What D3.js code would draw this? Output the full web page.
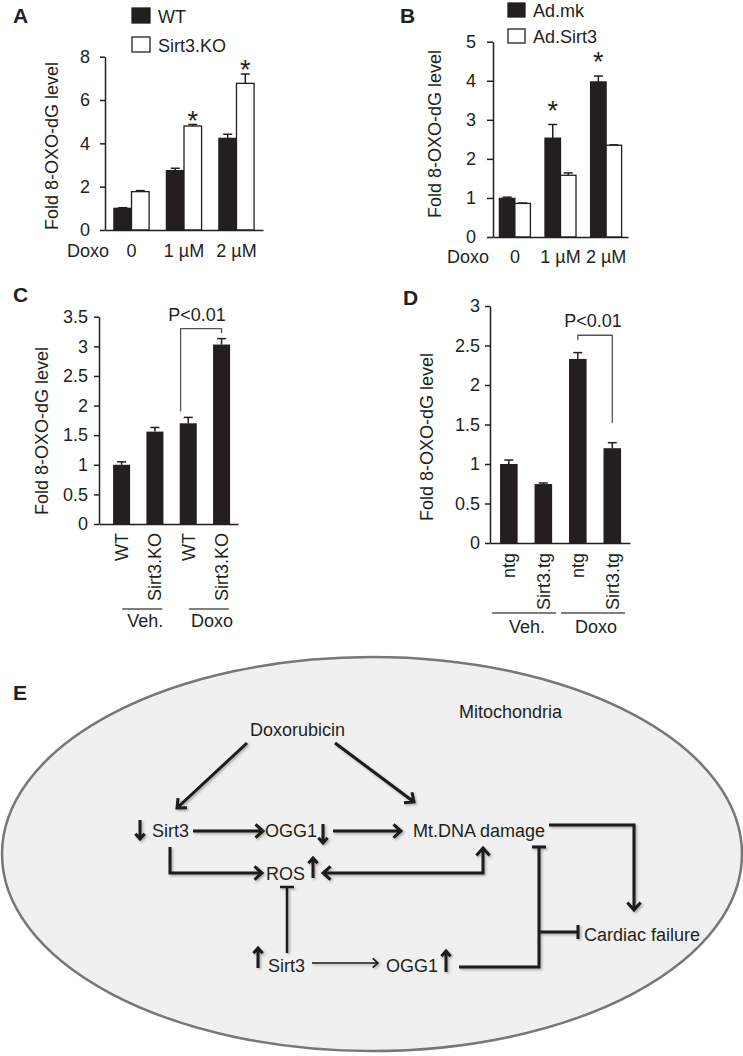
<!DOCTYPE html>
<html>
<head>
<meta charset="utf-8">
<script src="https://cdn.jsdelivr.net/npm/d3@7"></script>
<style>
  body { margin: 0; background: #fff; }
  svg { display: block; }
</style>
</head>
<body>
<div id="chart-area"></div>
<script>
// values
const doseLabels = ["0", "1 µM", "2 µM"]
const wtValues = [1.0, 2.74, 4.23]
const wtErrors = [0.03, 0.11, 0.19]
const koValues = [1.77, 4.8, 6.77]
const koErrors = [0.05, 0.07, 0.43]
const adMkValues = [0.99, 2.53, 3.97]
const adMkErrors = [0.03, 0.35, 0.15]
const adSirt3Values = [0.86, 1.58, 2.35]
const adSirt3Errors = [0.01, 0.06, 0.01]

const koLabels = ["WT", "Sirt3.KO", "WT", "Sirt3.KO"]
const koDoxoValues = [1.0, 1.56, 1.70, 3.03]
const koDoxoErrors = [0.05, 0.07, 0.10, 0.10]
const tgLabels = ["ntg", "Sirt3.tg", "ntg", "Sirt3.tg"]
const tgDoxoValues = [1.0, 0.746, 2.33, 1.20]
const tgDoxoErrors = [0.05, 0.014, 0.08, 0.07]
const treatLabels = ["Veh.", "Doxo"]

const ticksA = [0, 2, 4, 6, 8]
const ticksB = [0, 1, 2, 3, 4, 5]
const ticksC = [0, 0.5, 1, 1.5, 2, 2.5, 3, 3.5]
const ticksD = [0, 0.5, 1, 1.5, 2, 2.5, 3]

const FONT = "'Liberation Sans', Arial, Helvetica, sans-serif"
const INK = "#231f20"
const FS = 18
const yTitle = "Fold 8-OXO-dG level"

const svg = d3.select("#chart-area").append("svg")
  .attr("width", 743)
  .attr("height", 1056)
  .attr("font-family", FONT)
  .attr("fill", INK)

const defs = svg.append("defs")
defs.append("filter").attr("id", "shadow")
  .attr("x", "-20%").attr("y", "-20%").attr("width", "140%").attr("height", "140%")
  .append("feDropShadow")
  .attr("dx", 1.5).attr("dy", 1.5).attr("stdDeviation", 1.2)
  .attr("flood-color", "#000").attr("flood-opacity", 0.3)

function panelLetter(t, x, y) {
  svg.append("text").attr("x", x).attr("y", y)
    .attr("font-size", 21).attr("font-weight", "bold").text(t)
}

function yAxis(g, y, p) {
  const ax = g.append("g")
    .attr("transform", `translate(${p.left},0)`)
    .call(d3.axisLeft(y).tickValues(p.ticks).tickSize(p.tickSize).tickPadding(p.tickPad)
      .tickSizeOuter(0).tickFormat(d => String(d)))
  ax.attr("font-size", FS).attr("font-family", FONT).attr("color", INK)
  ax.selectAll("path, line").attr("stroke-width", 1.5)
  ax.selectAll("text").attr("fill", INK)

  const bx = g.append("g")
    .attr("transform", `translate(0,${p.bottom})`)
    .call(d3.axisBottom(d3.scaleLinear().range([p.left, p.right])).ticks(0).tickSize(0).tickSizeOuter(0))
  bx.attr("color", INK).selectAll("path").attr("stroke-width", 1.5)
  bx.selectAll(".tick").remove()

  g.append("text")
    .attr("transform", `translate(${p.titleX},${p.titleY}) rotate(-90)`)
    .attr("text-anchor", "middle")
    .attr("font-size", FS)
    .text(yTitle)
}

function errorBars(g, data, xc, y, cap) {
  const eb = g.selectAll(".err").data(data).enter().append("g")
    .attr("stroke", INK).attr("stroke-width", 1.5)
  eb.append("line")
    .attr("x1", xc).attr("x2", xc)
    .attr("y1", d => y(d.v)).attr("y2", d => y(d.v + d.e))
  eb.append("line")
    .attr("x1", d => xc(d) - cap).attr("x2", d => xc(d) + cap)
    .attr("y1", d => y(d.v + d.e)).attr("y2", d => y(d.v + d.e))
}

function groupedPanel(p) {
  const g = svg.append("g")
  const y = d3.scaleLinear().domain([0, d3.max(p.ticks)]).range([p.bottom, p.top])
  const x0 = d3.scaleBand().domain(p.groups).range([p.left, p.right])
    .paddingInner(p.padIn).paddingOuter(p.padOut)
  const x1 = d3.scaleBand().domain(d3.range(p.series.length)).range([0, x0.bandwidth()])

  const rows = p.groups.flatMap((grp, i) => p.series.map((s, j) => ({
    grp, j, v: s.values[i], e: s.errors[i], star: s.stars[i], fill: s.fill
  })))
  const xc = d => x0(d.grp) + x1(d.j) + x1.bandwidth() / 2

  g.selectAll("rect").data(rows).enter().append("rect")
    .attr("x", d => x0(d.grp) + x1(d.j))
    .attr("y", d => y(d.v))
    .attr("width", x1.bandwidth())
    .attr("height", d => p.bottom - y(d.v))
    .attr("fill", d => d.fill)
    .attr("stroke", INK)
    .attr("stroke-width", 1.3)

  errorBars(g, rows, xc, y, 4.5)

  g.selectAll(".star").data(rows.filter(d => d.star)).enter().append("text")
    .attr("x", xc)
    .attr("y", d => y(d.v + d.e) + p.starDy)
    .attr("text-anchor", "middle")
    .attr("font-size", 27)
    .text("*")

  yAxis(g, y, p)

  g.selectAll(".cat").data(p.groups).enter().append("text")
    .attr("x", d => x0(d) + x0.bandwidth() / 2)
    .attr("y", p.catY)
    .attr("text-anchor", "middle")
    .attr("font-size", FS)
    .text(d => d)
  g.append("text").attr("x", p.doxoX).attr("y", p.catY).attr("font-size", FS).text("Doxo")

  const lg = g.selectAll(".legend").data(p.series).enter().append("g")
    .attr("transform", (d, i) => `translate(${p.legX},${p.legY + i * p.legStep})`)
  lg.append("rect")
    .attr("width", p.legW).attr("height", p.legH)
    .attr("fill", d => d.fill).attr("stroke", INK).attr("stroke-width", 1.3)
  lg.append("text")
    .attr("x", p.legW + 8).attr("y", p.legH)
    .attr("font-size", FS)
    .text(d => d.name)
}

function singlePanel(p) {
  const g = svg.append("g")
  const y = d3.scaleLinear().domain([0, d3.max(p.ticks)]).range([p.bottom, p.top])
  const x = d3.scaleBand().domain(d3.range(p.values.length)).range([p.left, p.right])
    .paddingInner(p.padIn).paddingOuter(p.padOut).align(p.align)
  const rows = p.values.map((v, i) => ({ i, v, e: p.errors[i] }))
  const xc = d => x(d.i) + x.bandwidth() / 2

  g.selectAll("rect").data(rows).enter().append("rect")
    .attr("x", d => x(d.i))
    .attr("y", d => y(d.v))
    .attr("width", x.bandwidth())
    .attr("height", d => p.bottom - y(d.v))
    .attr("fill", INK)

  errorBars(g, rows, xc, y, 4.5)
  yAxis(g, y, p)

  g.selectAll(".cat").data(p.labels).enter().append("text")
    .attr("transform", (d, i) => `translate(${x(i) + x.bandwidth() / 2},${p.bottom + p.labelGap}) rotate(-90)`)
    .attr("text-anchor", "end")
    .attr("dy", "0.36em")
    .attr("font-size", FS)
    .text(d => d)

  // treatment brackets under the labels
  treatLabels.forEach((t, k) => {
    const cx = (x(2 * k) + x(2 * k + 1) + x.bandwidth()) / 2 + p.lineShift
    g.append("line")
      .attr("x1", cx - p.lineHalf).attr("x2", cx + p.lineHalf)
      .attr("y1", p.lineY).attr("y2", p.lineY)
      .attr("stroke", "#555").attr("stroke-width", 1.5)
    g.append("text")
      .attr("x", cx + 3).attr("y", p.treatY)
      .attr("text-anchor", "middle")
      .attr("font-size", FS)
      .text(t)
  })

  // significance bracket
  const s = p.sig
  const lx = x(s.from) + x.bandwidth() * s.fromPos
  const rx = x(s.to) + x.bandwidth() / 2
  g.append("path")
    .attr("d", `M${lx},${y(s.leftEnd)}V${y(s.top)}H${rx}V${y(s.rightEnd)}`)
    .attr("fill", "none").attr("stroke", "#555").attr("stroke-width", 1.3)
  g.append("text")
    .attr("x", (lx + rx) / 2 + s.textDx).attr("y", y(s.top) - 8)
    .attr("text-anchor", "middle")
    .attr("font-size", FS)
    .text("P<0.01")
}

panelLetter("A", 13, 23)
groupedPanel({
  groups: doseLabels,
  series: [
    { name: "WT", values: wtValues, errors: wtErrors, stars: [false, false, false], fill: INK },
    { name: "Sirt3.KO", values: koValues, errors: koErrors, stars: [false, true, true], fill: "#fff" }
  ],
  ticks: ticksA, left: 105, right: 263, top: 56.7, bottom: 230,
  padIn: 0.33, padOut: 0.17, tickSize: 5, tickPad: 10,
  titleX: 58, titleY: 146, catY: 257, doxoX: 67, starDy: 5,
  legX: 132, legY: 8, legStep: 29, legW: 18, legH: 15
})

panelLetter("B", 400, 23)
groupedPanel({
  groups: doseLabels,
  series: [
    { name: "Ad.mk", values: adMkValues, errors: adMkErrors, stars: [false, true, true], fill: INK },
    { name: "Ad.Sirt3", values: adSirt3Values, errors: adSirt3Errors, stars: [false, false, false], fill: "#fff" }
  ],
  ticks: ticksB, left: 493, right: 628, top: 41.7, bottom: 237,
  padIn: 0.32, padOut: 0.14, tickSize: 6, tickPad: 11,
  titleX: 441, titleY: 134, catY: 263, doxoX: 447, starDy: -5,
  legX: 508, legY: 3, legStep: 26, legW: 17, legH: 14
})

panelLetter("C", 13, 302)
singlePanel({
  labels: koLabels, values: koDoxoValues, errors: koDoxoErrors,
  ticks: ticksC, left: 99, right: 238, top: 316.7, bottom: 524,
  padIn: 0.49, padOut: 0.33, align: 0.64, tickSize: 5, tickPad: 6,
  titleX: 48, titleY: 431, labelGap: 9,
  lineY: 609, lineHalf: 20, lineShift: 4, treatY: 627,
  sig: { from: 2, to: 3, fromPos: 0.05, top: 3.30, leftEnd: 1.90, rightEnd: 3.22, textDx: -4 }
})

panelLetter("D", 403, 305)
singlePanel({
  labels: tgLabels, values: tgDoxoValues, errors: tgDoxoErrors,
  ticks: ticksD, left: 490, right: 630, top: 306, bottom: 543,
  padIn: 0.49, padOut: 0.275, align: 0.53, tickSize: 5, tickPad: 5,
  titleX: 433, titleY: 437, labelGap: 10,
  lineY: 613, lineHalf: 32, lineShift: -2, treatY: 633,
  sig: { from: 2, to: 3, fromPos: 0.5, top: 2.63, leftEnd: 2.57, rightEnd: 1.52, textDx: -2 }
})

// ---- panel E: pathway diagram ----
panelLetter("E", 13, 700)

svg.append("ellipse")
  .attr("cx", 372).attr("cy", 854).attr("rx", 370).attr("ry", 197)
  .attr("fill", "#f0f0f0").attr("stroke", "#777").attr("stroke-width", 2.5)

const nodes = [
  { t: "Mitochondria", x: 459, y: 718 },
  { t: "Doxorubicin", x: 250, y: 736 },
  { t: "Sirt3", x: 152, y: 837 },
  { t: "OGG1", x: 265, y: 837 },
  { t: "Mt.DNA damage", x: 413, y: 837 },
  { t: "ROS", x: 266, y: 880 },
  { t: "Sirt3", x: 268, y: 972 },
  { t: "OGG1", x: 386, y: 972 },
  { t: "Cardiac failure", x: 584, y: 941 }
]

const links = [
  { pts: [[247, 743], [177, 808]], end: "arrow" },
  { pts: [[335, 743], [414, 802]], end: "arrow" },
  { pts: [[193, 831], [263, 831]], end: "arrow" },
  { pts: [[333, 831], [401, 831]], end: "arrow" },
  { pts: [[549, 825], [634, 825], [634, 910]], end: "arrow" },
  { pts: [[170, 847], [170, 873], [262, 873]], end: "arrow" },
  { pts: [[323, 873], [483, 873], [483, 848]], end: "arrow", start: "arrow" },
  { pts: [[459, 967], [539, 967], [539, 847]], end: "bar" },
  { pts: [[539, 932], [578, 932]], end: "bar" },
  { pts: [[287, 953], [287, 887]], end: "bar", w: 2.5 },
  { pts: [[312, 963], [378, 963]], end: "arrow", w: 1.6, size: 7 },
  // small up / down marks beside the nodes
  { pts: [[140, 820], [140, 839]], end: "arrow", size: 7 },
  { pts: [[323, 824], [323, 843]], end: "arrow", size: 7 },
  { pts: [[313, 878], [313, 858]], end: "arrow", size: 7 },
  { pts: [[258, 968], [258, 948]], end: "arrow", size: 7 },
  { pts: [[446, 972], [446, 951]], end: "arrow", size: 7 }
]

const diag = svg.append("g").attr("filter", "url(#shadow)")

function tip(a, b, kind, size) {
  const ang = Math.atan2(b[1] - a[1], b[0] - a[0])
  if (kind === "arrow") {
    const spread = 0.72
    const p1 = [b[0] - size * Math.cos(ang - spread), b[1] - size * Math.sin(ang - spread)]
    const p2 = [b[0] - size * Math.cos(ang + spread), b[1] - size * Math.sin(ang + spread)]
    return `M${p1}L${b}L${p2}`
  }
  const h = 7
  const nx = -Math.sin(ang) * h, ny = Math.cos(ang) * h
  return `M${b[0] + nx},${b[1] + ny}L${b[0] - nx},${b[1] - ny}`
}

links.forEach(l => {
  const w = l.w || 3
  const size = l.size || 10
  const n = l.pts.length
  let d = d3.line()(l.pts)
  if (l.end) d += tip(l.pts[n - 2], l.pts[n - 1], l.end, size)
  if (l.start) d += tip(l.pts[1], l.pts[0], l.start, size)
  diag.append("path")
    .attr("d", d)
    .attr("fill", "none")
    .attr("stroke", "#1a1a1a")
    .attr("stroke-width", w)
    .attr("stroke-linejoin", "miter")
})

svg.append("g").selectAll("text").data(nodes).enter().append("text")
  .attr("x", d => d.x)
  .attr("y", d => d.y)
  .attr("font-size", FS)
  .text(d => d.t)
</script>
</body>
</html>
